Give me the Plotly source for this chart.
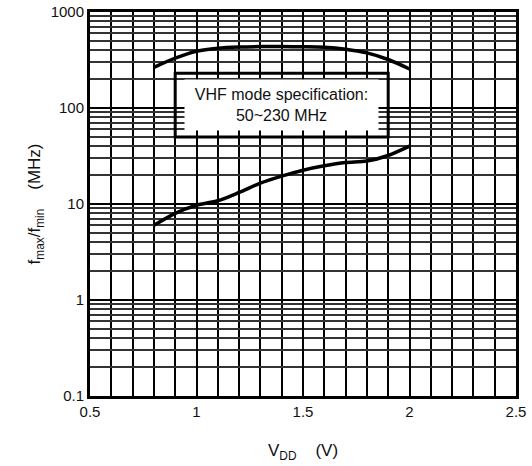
import math
import plotly.graph_objects as go

# Data
vdd = [0.8, 0.9, 1.0, 1.1, 1.2, 1.3, 1.4, 1.5, 1.6, 1.7, 1.8, 1.9, 2.0]
fmax = [265, 330, 390, 420, 432, 436, 436, 435, 430, 410, 375, 320, 255]
fmin = [6.0, 8.0, 9.7, 10.8, 13.2, 16.5, 19.5, 22.5, 25.0, 27.0, 28.0, 32.0, 40.0]

x_ticks = [0.5, 1, 1.5, 2, 2.5]
x_tick_labels = ["0.5", "1", "1.5", "2", "2.5"]
y_ticks = [0.1, 1, 10, 100, 1000]
y_tick_labels = ["0.1", "1", "10", "100", "1000"]
y_minor = [k * 10 ** e for e in range(-1, 3) for k in range(2, 10)]
x_minor = [round(0.5 + 0.1 * i, 1) for i in range(21)]

spec_v = [0.9, 1.9]
spec_f = [50, 230]
spec_text = "VHF mode specification:<br>50~230 MHz"

FONT = "Arial, Liberation Sans, sans-serif"

fig = go.Figure()
for ys in (fmax, fmin):
    fig.add_trace(go.Scatter(x=vdd, y=ys, mode="lines",
                             line=dict(color="black", width=3.5, shape="spline", smoothing=0.8),
                             showlegend=False, hoverinfo="skip"))

fig.add_shape(type="rect", x0=spec_v[0], x1=spec_v[1], y0=spec_f[0], y1=spec_f[1],
              xref="x", yref="y", line=dict(color="black", width=3), fillcolor="rgba(0,0,0,0)",
              layer="above")

fig.add_annotation(x=(spec_v[0] + spec_v[1]) / 2,
                   y=(math.log10(spec_f[0]) + math.log10(spec_f[1])) / 2,
                   xref="x", yref="y", text=spec_text, showarrow=False,
                   bgcolor="white", width=191, height=48,
                   font=dict(family=FONT, size=16, color="#111"))

fig.update_xaxes(range=[0.5, 2.5], tickvals=x_ticks, ticktext=x_tick_labels,
                 showgrid=True, gridcolor="black", gridwidth=1.5,
                 minor=dict(tickvals=x_minor, showgrid=True, gridcolor="black", gridwidth=1.5, ticks=""),
                 showline=True, linecolor="black", linewidth=3, mirror=True,
                 ticks="", zeroline=False, automargin=False, ticklabeloverflow="allow",
                 tickfont=dict(family=FONT, size=15, color="#111"),
                 title=dict(text="V<sub>DD</sub>    (V)", standoff=26,
                            font=dict(family=FONT, size=17, color="#111")))
fig.update_yaxes(type="log", range=[-1, 3], tickvals=y_ticks, ticktext=y_tick_labels,
                 showgrid=True, gridcolor="black", gridwidth=2,
                 minor=dict(tickvals=y_minor, showgrid=True, gridcolor="#333", gridwidth=1.5, ticks=""),
                 showline=True, linecolor="black", linewidth=3, mirror=True,
                 ticks="", zeroline=False, automargin=False, ticklabeloverflow="allow",
                 tickfont=dict(family=FONT, size=15, color="#111"),
                 title=dict(text="f<sub>max</sub>/f<sub>min</sub>    (MHz)", standoff=6,
                            font=dict(family=FONT, size=17, color="#111")))

fig.update_layout(width=532, height=466, margin=dict(l=90, r=16, t=12, b=70),
                  paper_bgcolor="white", plot_bgcolor="white",
                  font=dict(family=FONT))

fig.write_html("out.html", config={"displayModeBar": False},
               post_script="document.body.style.margin='0';")
